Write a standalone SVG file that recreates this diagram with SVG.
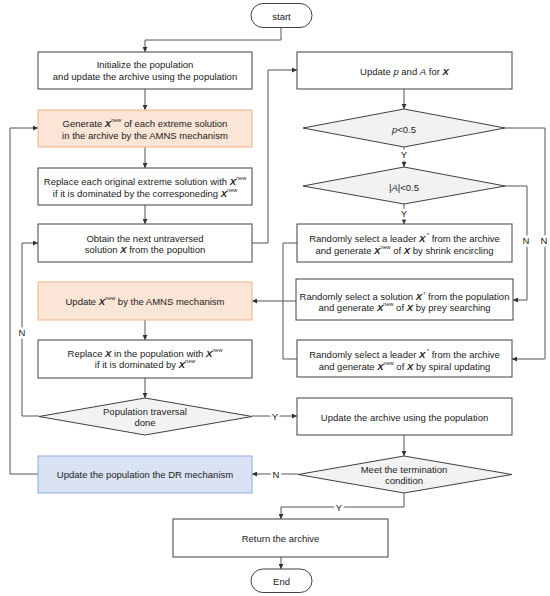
<svg xmlns="http://www.w3.org/2000/svg" width="550" height="596" viewBox="0 0 550 596">
<defs>
<marker id="ah" viewBox="0 0 6 6" refX="6" refY="3" markerWidth="5" markerHeight="5" markerUnits="userSpaceOnUse" orient="auto">
<path d="M0,0 L6,3 L0,6 z" fill="#333"/>
</marker>
<style>
.box{fill:#fff;stroke:#404040;stroke-width:1}
.org{fill:#FBE5D6;stroke:#F4B183;stroke-width:1}
.blu{fill:#DAE3F3;stroke:#8FAADC;stroke-width:1}
.dia{fill:#F2F2F2;stroke:#404040;stroke-width:1}
.term{fill:#fff;stroke:#404040;stroke-width:1}
text{font-family:"Liberation Sans",Arial,sans-serif;font-size:9.5px;fill:#222;text-anchor:middle;dominant-baseline:central}
.x{font-weight:bold;font-style:italic}
.i{font-style:italic}
.sup{font-size:5.5px}
.lbl{stroke:#fff;stroke-width:5;paint-order:stroke}
.c{fill:none;stroke:#555;stroke-width:1}
.ca{fill:none;stroke:#555;stroke-width:1;marker-end:url(#ah)}
</style>
</defs>
<g id="connectors">
<path class="ca" d="M281,27 V40 H145 V52"/>
<path class="ca" d="M145,89 V110"/>
<path class="ca" d="M145,147 V168"/>
<path class="ca" d="M145,205 V224"/>
<path class="ca" d="M252,243 H268 V70 H297"/>
<path class="ca" d="M145,320 V340"/>
<path class="ca" d="M145,378 V398"/>
<path class="ca" d="M39,416 H22 V243 H38"/>
<path class="ca" d="M252,416 H297"/>
<path class="ca" d="M404,89 V109"/>
<path class="ca" d="M404,147 V167"/>
<path class="ca" d="M404,204 V224"/>
<path class="ca" d="M505,128 H545 V359 H512"/>
<path class="ca" d="M505,186 H527 V300 H513"/>
<path class="c" d="M297,243 H283 V359 H297"/>
<path class="ca" d="M296,301 H252"/>
<path class="ca" d="M404,435 V456"/>
<path class="ca" d="M298,474 H252"/>
<path class="ca" d="M404,493 V507 H281 V519"/>
<path class="ca" d="M281,557 V569"/>
<path class="ca" d="M38,474 H10 V128 H38"/>
<text class="lbl" x="22" y="332">N</text>
<text class="lbl" x="275" y="416">Y</text>
<text class="lbl" x="404" y="154">Y</text>
<text class="lbl" x="404" y="213">Y</text>
<text class="lbl" x="544" y="240">N</text>
<text class="lbl" x="526" y="240">N</text>
<text class="lbl" x="276" y="474">N</text>
<text class="lbl" x="339" y="507">Y</text>
</g>
<g id="start">
<rect class="term" x="251" y="3.5" width="61" height="24" rx="12"/>
<text x="281.5" y="16">start</text>
</g>
<g id="init">
<rect class="box" x="38" y="52" width="214" height="37"/>
<text x="145" y="64">Initialize the population</text>
<text x="145" y="76">and update the archive using the population</text>
</g>
<g id="genAMNS">
<rect class="org" x="38" y="110" width="214" height="37"/>
<text x="145" y="123">Generate <tspan class="x">X</tspan><tspan class="sup" dy="-3">new</tspan><tspan dy="3"> of each extreme solution</tspan></text>
<text x="145" y="135">in the archive by the AMNS mechanism</text>
</g>
<g id="replaceExtreme">
<rect class="box" x="38" y="168" width="214" height="37"/>
<text x="145" y="181">Replace each original extreme solution with <tspan class="x">X</tspan><tspan class="sup" dy="-3">new</tspan></text>
<text x="145" y="193">if it is dominated by the corresponeding <tspan class="x">X</tspan><tspan class="sup" dy="-3">new</tspan></text>
</g>
<g id="obtainNext">
<rect class="box" x="38" y="224" width="214" height="38"/>
<text x="145" y="238">Obtain the next untraversed</text>
<text x="145" y="249">solution <tspan class="x">X</tspan> from the popultion</text>
</g>
<g id="updateAMNS">
<rect class="org" x="38" y="282" width="214" height="38"/>
<text x="145" y="301">Update <tspan class="x">X</tspan><tspan class="sup" dy="-3">new</tspan><tspan dy="3"> by the AMNS mechanism</tspan></text>
</g>
<g id="replaceX">
<rect class="box" x="38" y="340" width="214" height="38"/>
<text x="145" y="353">Replace <tspan class="x">X</tspan> in the population with <tspan class="x">X</tspan><tspan class="sup" dy="-3">new</tspan></text>
<text x="145" y="364">if it is dominated by <tspan class="x">X</tspan><tspan class="sup" dy="-3">new</tspan></text>
</g>
<g id="traversalDone">
<polygon class="dia" points="145,398 252,416.5 145,435 39,416.5"/>
<text x="145" y="411">Population traversal</text>
<text x="145" y="422">done</text>
</g>
<g id="drMechanism">
<rect class="blu" x="38" y="456" width="214" height="37"/>
<text x="145" y="474">Update the population the DR mechanism</text>
</g>
<g id="updatePA">
<rect class="box" x="297" y="52" width="215" height="37"/>
<text x="404.5" y="71">Update <tspan class="i">p</tspan> and <tspan class="i">A</tspan> for <tspan class="x">X</tspan></text>
</g>
<g id="pCheck">
<polygon class="dia" points="404,109 505,128 404,147 303,128"/>
<text x="404" y="129"><tspan class="i">p</tspan>&lt;0.5</text>
</g>
<g id="aCheck">
<polygon class="dia" points="404,167 505,186 404,204 303,186"/>
<text x="404" y="187">|<tspan class="i">A</tspan>|&lt;0.5</text>
</g>
<g id="shrink">
<rect class="box" x="297" y="224" width="215" height="38"/>
<text x="404.5" y="238">Randomly select a leader <tspan class="x">X</tspan><tspan class="sup" dy="-3"> *</tspan><tspan dy="3"> from the archive</tspan></text>
<text x="404.5" y="250">and generate  <tspan class="x">X</tspan><tspan class="sup" dy="-3">new</tspan><tspan dy="3"> of </tspan><tspan class="x">X</tspan> by shrink encircling</text>
</g>
<g id="prey">
<rect class="box" x="296" y="279" width="217" height="41"/>
<text x="404.5" y="296">Randomly select a solution <tspan class="x">X</tspan><tspan class="sup" dy="-3"> r</tspan><tspan dy="3"> from the population</tspan></text>
<text x="404.5" y="307">and generate <tspan class="x">X</tspan><tspan class="sup" dy="-3">new</tspan><tspan dy="3"> of </tspan><tspan class="x">X</tspan> by prey searching</text>
</g>
<g id="spiral">
<rect class="box" x="297" y="340" width="215" height="37"/>
<text x="404.5" y="354">Randomly select a leader <tspan class="x">X</tspan><tspan class="sup" dy="-3"> *</tspan><tspan dy="3"> from the archive</tspan></text>
<text x="404.5" y="366">and generate  <tspan class="x">X</tspan><tspan class="sup" dy="-3">new</tspan><tspan dy="3"> of </tspan><tspan class="x">X</tspan> by spiral updating</text>
</g>
<g id="updateArchive">
<rect class="box" x="297" y="398" width="215" height="37"/>
<text x="404.5" y="417">Update the archive using the population</text>
</g>
<g id="termination">
<polygon class="dia" points="404,456 512,474.5 404,493 298,474.5"/>
<text x="404" y="469">Meet the termination</text>
<text x="404" y="480">condition</text>
</g>
<g id="returnArchive">
<rect class="box" x="173" y="519" width="215" height="38"/>
<text x="280.5" y="538">Return the archive</text>
</g>
<g id="end">
<rect class="term" x="251" y="569" width="61" height="23.5" rx="11.75"/>
<text x="281.5" y="581.5">End</text>
</g>
</svg>
